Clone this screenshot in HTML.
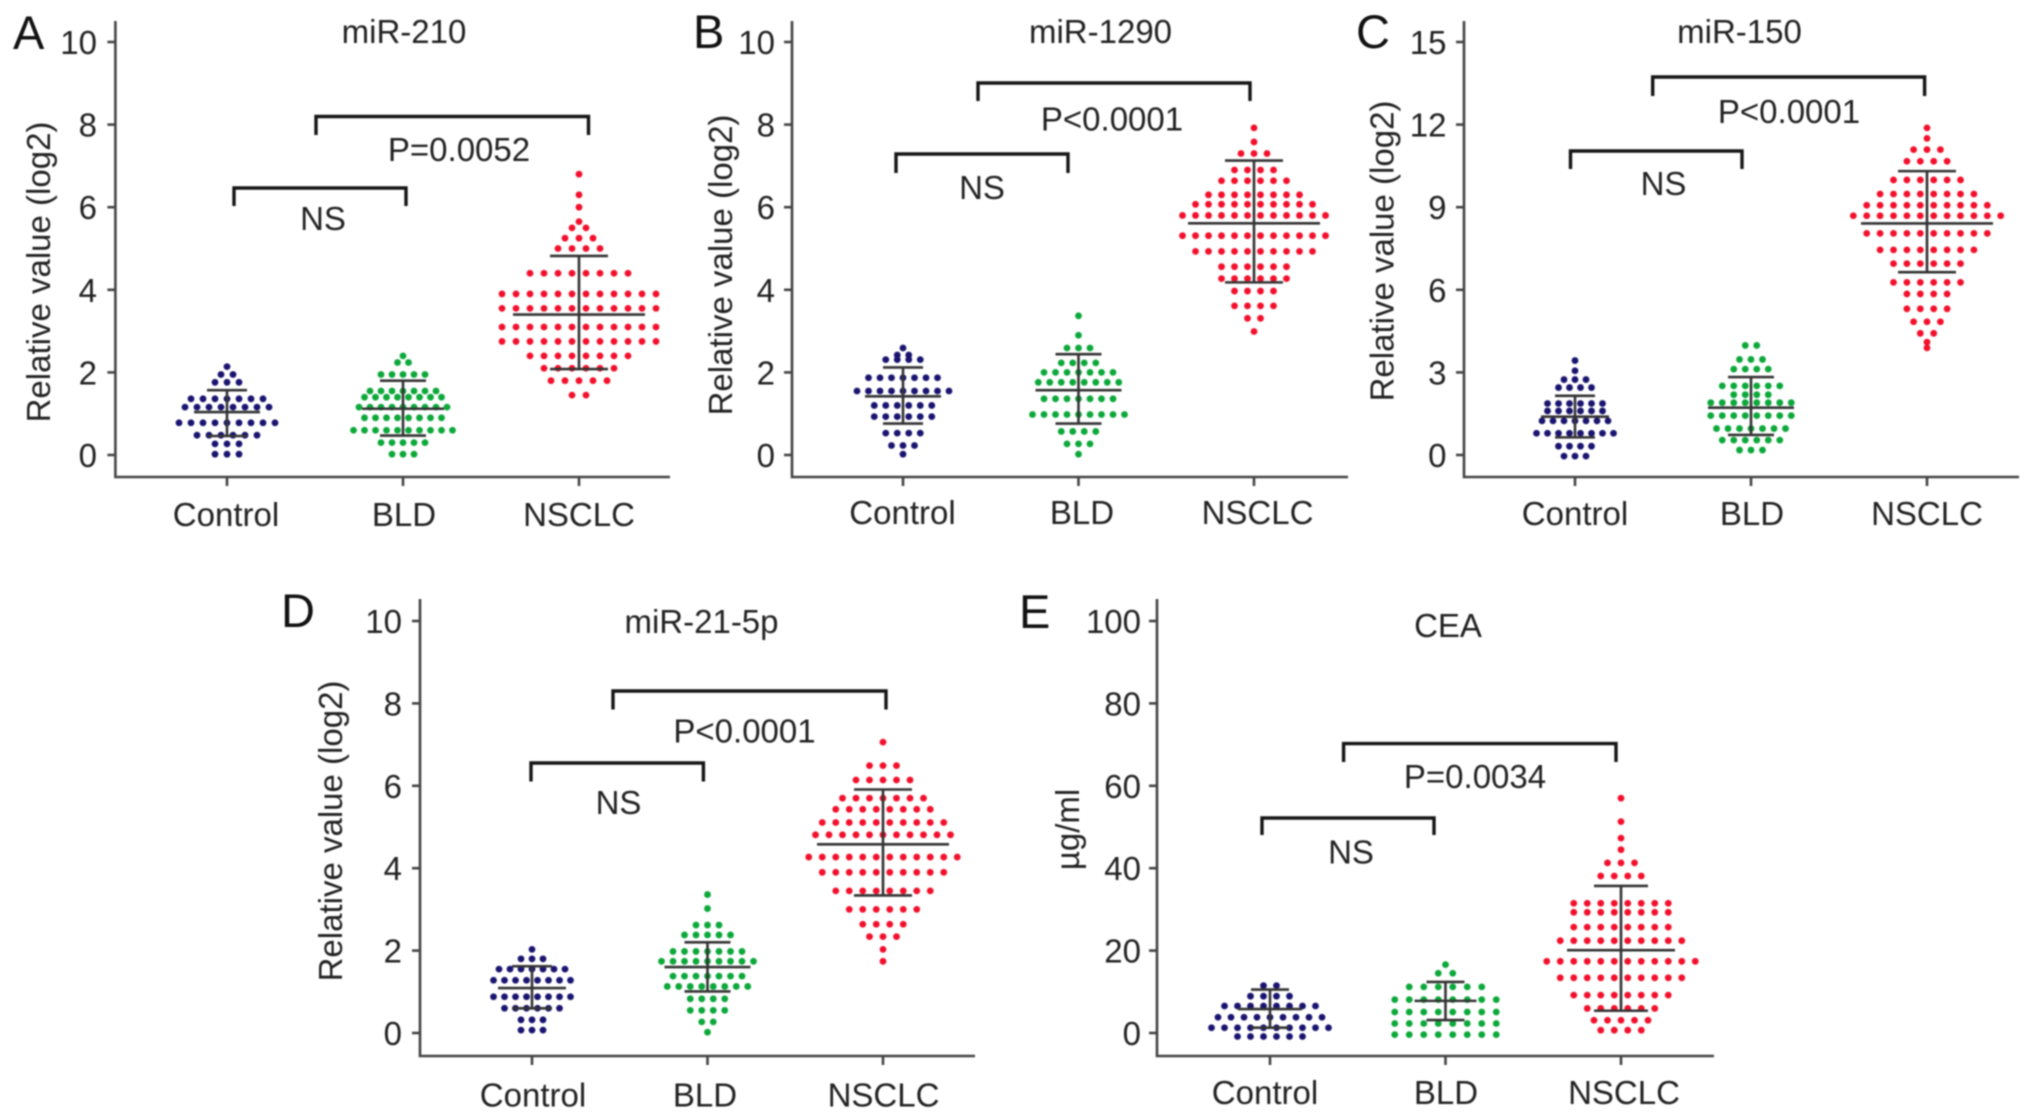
<!DOCTYPE html>
<html lang="en">
<head>
<meta charset="utf-8">
<title>miRNA and CEA dot plots</title>
<style>
html,body{margin:0;padding:0;background:#fff;}
#figure{display:block;width:2032px;height:1120px;filter:blur(0.8px);}
text{font-family:"Liberation Sans",Arial,sans-serif;fill:#222;}
.lbl{font-size:33px;}
.mid{text-anchor:middle;}
.letter{font-size:47px;fill:#111;}
.axis{stroke:#444;stroke-width:2.6;fill:none;}
.bracket{stroke:#151515;stroke-width:3.4;fill:none;}
</style>
</head>
<body>
<svg id="figure" xmlns="http://www.w3.org/2000/svg" width="2032" height="1120" viewBox="0 0 2032 1120">
  <rect width="2032" height="1120" fill="#fff"/>

  <g id="panel-a">
    <text class="letter" x="13" y="49">A</text>
    <text class="lbl mid" x="404" y="43">miR-210</text>
    <text class="lbl mid" transform="translate(50,272) rotate(-90)">Relative value (log2)</text>
    <path class="axis" d="M115.4 21V477H670"/>
    <text class="lbl mid" x="226" y="526">Control</text>
    <text class="lbl mid" x="404" y="526">BLD</text>
    <text class="lbl mid" x="579" y="526">NSCLC</text>
    <path class="bracket" d="M234 206V188H406V206"/>
    <text class="lbl mid" x="323" y="230">NS</text>
    <path class="bracket" d="M316 135V116.5H588.5V135"/>
    <text class="lbl mid" x="459" y="161">P=0.0052</text>
  </g>

  <g id="panel-b">
    <text class="letter" x="693" y="48">B</text>
    <text class="lbl mid" x="1100.5" y="43">miR-1290</text>
    <text class="lbl mid" transform="translate(732,265) rotate(-90)">Relative value (log2)</text>
    <path class="axis" d="M792 21V477H1348"/>
    <text class="lbl mid" x="902.5" y="524">Control</text>
    <text class="lbl mid" x="1082" y="524">BLD</text>
    <text class="lbl mid" x="1257.5" y="524">NSCLC</text>
    <path class="bracket" d="M896 173V154H1068V173"/>
    <text class="lbl mid" x="982" y="199">NS</text>
    <path class="bracket" d="M978 101V83H1250V101"/>
    <text class="lbl mid" x="1112" y="130.5">P&lt;0.0001</text>
  </g>

  <g id="panel-c">
    <text class="letter" x="1356" y="48">C</text>
    <text class="lbl mid" x="1739.5" y="43">miR-150</text>
    <text class="lbl mid" transform="translate(1393.5,251) rotate(-90)">Relative value (log2)</text>
    <path class="axis" d="M1464 21V477H2019"/>
    <text class="lbl mid" x="1575" y="525">Control</text>
    <text class="lbl mid" x="1752" y="525">BLD</text>
    <text class="lbl mid" x="1927" y="525">NSCLC</text>
    <path class="bracket" d="M1570.5 169V151H1742V169"/>
    <text class="lbl mid" x="1663.5" y="195">NS</text>
    <path class="bracket" d="M1652.7 96V77H1924.6V96"/>
    <text class="lbl mid" x="1789" y="123">P&lt;0.0001</text>
  </g>

  <g id="panel-d">
    <text class="letter" x="281" y="627">D</text>
    <text class="lbl mid" x="701.5" y="633">miR-21-5p</text>
    <text class="lbl mid" transform="translate(342,831) rotate(-90)">Relative value (log2)</text>
    <path class="axis" d="M420 599V1056H975"/>
    <text class="lbl mid" x="533" y="1106.5">Control</text>
    <text class="lbl mid" x="705" y="1106.5">BLD</text>
    <text class="lbl mid" x="883.5" y="1106.5">NSCLC</text>
    <path class="bracket" d="M531 781.5V763H703.4V781.5"/>
    <text class="lbl mid" x="618.5" y="814">NS</text>
    <path class="bracket" d="M613 709.5V691H886V709.5"/>
    <text class="lbl mid" x="744.5" y="742.5">P&lt;0.0001</text>
  </g>

  <g id="panel-e">
    <text class="letter" x="1019" y="628">E</text>
    <text class="lbl mid" x="1448" y="637">CEA</text>
    <text class="lbl mid" transform="translate(1079,829.5) rotate(-90)">µg/ml</text>
    <path class="axis" d="M1157 599V1056H1714"/>
    <text class="lbl mid" x="1265" y="1104">Control</text>
    <text class="lbl mid" x="1446" y="1104">BLD</text>
    <text class="lbl mid" x="1624" y="1104">NSCLC</text>
    <path class="bracket" d="M1262 835V818H1434V835"/>
    <text class="lbl mid" x="1351" y="863.5">NS</text>
    <path class="bracket" d="M1343.6 762V743.6H1616V762"/>
    <text class="lbl mid" x="1475" y="788">P=0.0034</text>
  </g>
</svg>

<script>
const categories = ['control', 'bld', 'nsclc'];
const groupColors = ['#1a1470', '#0ca83a', '#f2102c'];

/* Panel A: miR-210 */
const aTicks = [0, 2, 4, 6, 8, 10];
const aControl = [2.14, 1.95,1.95, 1.76,1.76,1.76, 1.36,1.36,1.36,1.36,1.36,1.36,1.36, 1.16,1.16,1.16,1.16,1.16,1.16,1.16,1.16, 0.78,0.78,0.78,0.78,0.78,0.78,0.78,0.78,0.78, 0.48,0.48,0.48,0.48,0.48,0.48, 0.27,0.27,0.27, 0.02,0.02,0.02];
const aBld = [2.4, 2.24,2.24, 1.95,1.95,1.95,1.95,1.95, 1.55,1.55,1.55,1.55,1.55,1.55,1.55, 1.4,1.4,1.4,1.4,1.4,1.4,1.4,1.4, 1.16,1.16,1.16,1.16,1.16,1.16,1.16,1.16,1.16, 0.9,0.9,0.9,0.9,0.9,0.9,0.9,0.9, 0.6,0.6,0.6,0.6,0.6,0.6,0.6,0.6,0.6,0.6, 0.3,0.3,0.3,0.3,0.3, 0.02,0.02,0.02];
const aNsclc = [6.8, 6.3, 6.0, 5.65, 5.5,5.5, 5.25,5.25,5.25, 5.0,5.0,5.0,5.0, 4.4,4.4,4.4,4.4,4.4,4.4,4.4,4.4, 3.9,3.9,3.9,3.9,3.9,3.9,3.9,3.9,3.9,3.9,3.9,3.9, 3.55,3.55,3.55,3.55,3.55,3.55,3.55,3.55,3.55,3.55,3.55,3.55, 3.1,3.1,3.1,3.1,3.1,3.1,3.1,3.1,3.1,3.1,3.1,3.1, 2.75,2.75,2.75,2.75,2.75,2.75,2.75,2.75,2.75,2.75,2.75,2.75, 2.4,2.4,2.4,2.4,2.4,2.4,2.4,2.4, 2.1,2.1,2.1,2.1,2.1,2.1, 1.8,1.8,1.8,1.8,1.8, 1.45,1.45];
const aMeans = [1.04, 1.12, 3.4];
const aUpper = [1.57, 1.8, 4.82];
const aLower = [0.46, 0.47, 2.08];

/* Panel B: miR-1290 */
const bTicks = [0, 2, 4, 6, 8, 10];
const bControl = [2.59, 2.42,2.42, 2.31,2.31,2.31,2.31, 1.87,1.87,1.87,1.87,1.87,1.87,1.87, 1.55,1.55,1.55,1.55,1.55,1.55,1.55,1.55,1.55, 1.2,1.2,1.2,1.2,1.2,1.2, 0.93,0.93,0.93,0.93,0.93,0.93, 0.53,0.53,0.53,0.53, 0.23,0.23,0.23, 0.02];
const bBld = [3.37, 2.9, 2.59,2.59,2.59, 2.23,2.23,2.23,2.23, 2.0,2.0,2.0,2.0,2.0,2.0,2.0, 1.76,1.76,1.76,1.76,1.76,1.76,1.76,1.76, 1.36,1.36,1.36,1.36,1.36,1.36,1.36, 0.98,0.98,0.98,0.98,0.98,0.98,0.98,0.98,0.98, 0.57,0.57,0.57,0.57, 0.27,0.27,0.27, 0.02];
const bNsclc = [7.92, 7.58, 7.3,7.3,7.3, 6.9,6.9,6.9,6.9, 6.64,6.64,6.64,6.64,6.64,6.64, 6.3,6.3,6.3,6.3,6.3,6.3,6.3,6.3, 6.07,6.07,6.07,6.07,6.07,6.07,6.07,6.07,6.07,6.07, 5.8,5.8,5.8,5.8,5.8,5.8,5.8,5.8,5.8,5.8,5.8,5.8, 5.31,5.31,5.31,5.31,5.31,5.31,5.31,5.31,5.31,5.31,5.31,5.31, 4.93,4.93,4.93,4.93,4.93,4.93,4.93,4.93,4.93,4.93, 4.56,4.56,4.56,4.56,4.56,4.56, 4.27,4.27,4.27,4.27,4.27,4.27, 3.97,3.97,3.97,3.97, 3.61,3.61,3.61,3.61, 3.31,3.31, 2.99];
const bMeans = [1.42, 1.57, 5.61];
const bUpper = [2.12, 2.44, 7.13];
const bLower = [0.76, 0.76, 4.18];

/* Panel C: miR-150 */
const cTicks = [0, 3, 6, 9, 12, 15];
const cControl = [3.43, 3.06, 2.74,2.74,2.74, 2.45,2.45,2.45,2.45, 1.87,1.87,1.87,1.87,1.87,1.87, 1.6,1.6,1.6,1.6,1.6,1.6, 1.24,1.24,1.24,1.24,1.24,1.24,1.24, 0.79,0.79,0.79,0.79,0.79,0.79,0.79,0.79, 0.32,0.32,0.32,0.32, -0.04,-0.04,-0.04];
const cBld = [3.98,3.98, 3.47,3.47,3.47, 3.12,3.12,3.12,3.12, 2.51,2.51,2.51,2.51,2.51,2.51, 2.19,2.19,2.19,2.19, 1.9,1.9,1.9,1.9,1.9,1.9,1.9,1.9, 1.43,1.43,1.43,1.43,1.43,1.43,1.43,1.43, 0.96,0.96,0.96,0.96,0.96,0.96,0.96, 0.54,0.54,0.54,0.54,0.54,0.54, 0.18,0.18,0.18];
const cNsclc = [11.88, 11.5, 11.09,11.09,11.09, 10.67,10.67,10.67,10.67, 9.99,9.99,9.99,9.99,9.99,9.99, 9.48,9.48,9.48,9.48,9.48,9.48,9.48,9.48, 9.07,9.07,9.07,9.07,9.07,9.07,9.07,9.07,9.07,9.07, 8.69,8.69,8.69,8.69,8.69,8.69,8.69,8.69,8.69,8.69,8.69,8.69, 8.05,8.05,8.05,8.05,8.05,8.05,8.05,8.05,8.05,8.05, 7.45,7.45,7.45,7.45,7.45,7.45,7.45,7.45, 6.95,6.95,6.95,6.95,6.95,6.95, 6.27,6.27,6.27,6.27,6.27,6.27, 5.85,5.85,5.85,5.85, 5.31,5.31,5.31,5.31, 4.84,4.84,4.84, 4.42,4.42, 4.1, 3.89];
const cMeans = [1.39, 1.72, 8.41];
const cUpper = [2.15, 2.83, 10.31];
const cLower = [0.64, 0.73, 6.64];

/* Panel D: miR-21-5p */
const dTicks = [0, 2, 4, 6, 8, 10];
const dControl = [2.03, 1.8,1.8,1.8, 1.55,1.55,1.55,1.55,1.55,1.55,1.55, 1.28,1.28,1.28,1.28,1.28,1.28,1.28,1.28, 0.88,0.88,0.88,0.88,0.88,0.88,0.88,0.88, 0.6,0.6,0.6,0.6,0.6,0.6, 0.32,0.32,0.32, 0.07,0.07,0.07];
const dBld = [3.36, 3.02, 2.62,2.62,2.62, 2.38,2.38,2.38,2.38,2.38, 1.98,1.98,1.98,1.98,1.98,1.98,1.98, 1.74,1.74,1.74,1.74,1.74,1.74,1.74,1.74,1.74, 1.38,1.38,1.38,1.38,1.38,1.38,1.38, 1.13,1.13,1.13,1.13,1.13,1.13,1.13,1.13, 0.83,0.83,0.83,0.83, 0.55,0.55,0.55,0.55, 0.27,0.27, 0.02];
const dNsclc = [7.06, 6.49,6.49,6.49, 6.14,6.14,6.14,6.14,6.14, 5.7,5.7,5.7,5.7,5.7,5.7,5.7, 5.43,5.43,5.43,5.43,5.43,5.43,5.43,5.43, 5.11,5.11,5.11,5.11,5.11,5.11,5.11,5.11,5.11,5.11, 4.81,4.81,4.81,4.81,4.81,4.81,4.81,4.81,4.81,4.81,4.81, 4.27,4.27,4.27,4.27,4.27,4.27,4.27,4.27,4.27,4.27,4.27,4.27, 3.9,3.9,3.9,3.9,3.9,3.9,3.9,3.9,3.9,3.9, 3.45,3.45,3.45,3.45,3.45,3.45,3.45,3.45, 3.0,3.0,3.0,3.0,3.0,3.0, 2.64,2.64,2.64,2.64, 2.34,2.34,2.34, 2.03, 1.74];
const dMeans = [1.09, 1.6, 4.58];
const dUpper = [1.62, 2.2, 5.91];
const dLower = [0.6, 1.01, 3.34];

/* Panel E: CEA */
const eTicks = [0, 20, 40, 60, 80, 100];
const eControl = [11.5,11.5, 8.94,8.94,8.94,8.94, 6.55,6.55,6.55,6.55,6.55,6.55,6.55,6.55, 3.83,3.83,3.83,3.83,3.83,3.83,3.83,3.83,3.83, 1.28,1.28,1.28,1.28,1.28,1.28,1.28,1.28,1.28,1.28, -0.85,-0.85,-0.85,-0.85,-0.85,-0.85];
const eBld = [16.6, 14.5,14.5, 11.2,11.2,11.2,11.2,11.2,11.2, 8.1,8.1,8.1,8.1,8.1,8.1,8.1,8.1, 5.1,5.1,5.1,5.1,5.1,5.1,5.1,5.1, 2.3,2.3,2.3,2.3,2.3,2.3,2.3,2.3, -0.4,-0.4,-0.4,-0.4,-0.4,-0.4,-0.4,-0.4];
const eNsclc = [57, 51.3, 47.3, 44.5, 41.3,41.3,41.3, 38.1,38.1,38.1,38.1, 31.5,31.5,31.5,31.5,31.5,31.5,31.5,31.5, 29.3,29.3,29.3,29.3,29.3,29.3,29.3,29.3, 25.7,25.7,25.7,25.7,25.7,25.7,25.7,25.7, 22.4,22.4,22.4,22.4,22.4,22.4,22.4,22.4,22.4,22.4, 17.4,17.4,17.4,17.4,17.4,17.4,17.4,17.4,17.4,17.4,17.4,17.4, 13.4,13.4,13.4,13.4,13.4,13.4,13.4,13.4,13.4,13.4, 9.2,9.2,9.2,9.2,9.2,9.2,9.2,9.2, 5.96,5.96,5.96,5.96,5.96,5.96, 3.1,3.1,3.1,3.1,3.1, 0.68,0.68,0.68,0.68];
const eMeans = [5.8, 7.8, 20.1];
const eUpper = [10.55, 12.4, 35.7];
const eLower = [1.3, 3.15, 5.4];

const SVG_NS = 'http://www.w3.org/2000/svg';

function make(tag, attrs, parent) {
  const node = document.createElementNS(SVG_NS, tag);
  Object.keys(attrs).forEach(function (key) { node.setAttribute(key, attrs[key]); });
  parent.appendChild(node);
  return node;
}

/* Lay one group's values out as centred rows: equal values share a row. */
function swarmRows(values) {
  const rows = new Map();
  values.forEach(function (value) {
    if (!rows.has(value)) rows.set(value, 0);
    rows.set(value, rows.get(value) + 1);
  });
  return rows;
}

function drawPanel(p) {
  const root = document.getElementById('panel-' + p.id);
  const top = p.ticks[p.ticks.length - 1];
  const y = function (v) { return p.y0 + (p.yTop - p.y0) * v / top; };
  const x = function (i) { return p.x0 + i * p.dx; };

  p.ticks.forEach(function (t) {
    const mark = make('line', { x1: p.axisX - 8, x2: p.axisX, y1: y(t), y2: y(t), stroke: '#444', 'stroke-width': 2.6 }, root);
    
    
    const label = make('text', { x: p.labelRight, y: y(t) + 12, class: 'lbl', 'text-anchor': 'end' }, root);
    label.textContent = String(t);
    
    
  });

  categories.forEach(function (cat, i) {
    const tick = make('line', { x1: x(i), x2: x(i), y1: p.axisY, y2: p.axisY + 9, stroke: '#444', 'stroke-width': 2.6 }, root);
    
    

    const group = make('g', { fill: groupColors[i] }, root);
    
    
    swarmRows(p.series[i]).forEach(function (count, value) {
      for (let k = 0; k < count; k++) {
        const dot = make('circle', { cx: x(i) + (k - (count - 1) / 2) * p.spacing[i], cy: y(value), r: 3.4 }, group);
        
        
      }
    });

    const bar = make('path', {
      d: 'M' + (x(i) - p.capHalf[i]) + ' ' + y(p.upper[i]) + 'H' + (x(i) + p.capHalf[i]) +
         'M' + x(i) + ' ' + y(p.upper[i]) + 'V' + y(p.lower[i]) +
         'M' + (x(i) - p.capHalf[i]) + ' ' + y(p.lower[i]) + 'H' + (x(i) + p.capHalf[i]),
      stroke: '#333', 'stroke-width': 2.6, fill: 'none'
    }, root);
    
    

    const meanLine = make('line', { x1: x(i) - p.meanHalf[i], x2: x(i) + p.meanHalf[i], y1: y(p.means[i]), y2: y(p.means[i]), stroke: '#333', 'stroke-width': 2.6 }, root);
    
    
  });
}

const panelList = [
  { id: 'a', ticks: aTicks, series: [aControl, aBld, aNsclc], means: aMeans, upper: aUpper, lower: aLower,
    axisX: 115.4, labelRight: 97, axisY: 477, y0: 455, yTop: 42, x0: 227, dx: 176,
    spacing: [12, 11, 14], capHalf: [20, 23, 29], meanHalf: [33, 41, 66] },
  { id: 'b', ticks: bTicks, series: [bControl, bBld, bNsclc], means: bMeans, upper: bUpper, lower: bLower,
    axisX: 792, labelRight: 775, axisY: 477, y0: 455, yTop: 42, x0: 903, dx: 175.5,
    spacing: [11.5, 11.5, 13], capHalf: [20, 23, 29], meanHalf: [38, 43, 66] },
  { id: 'c', ticks: cTicks, series: [cControl, cBld, cNsclc], means: cMeans, upper: cUpper, lower: cLower,
    axisX: 1464, labelRight: 1446.5, axisY: 477, y0: 455, yTop: 42, x0: 1575, dx: 176,
    spacing: [11, 11.5, 13.4], capHalf: [20, 23, 29], meanHalf: [34, 43, 66] },
  { id: 'd', ticks: dTicks, series: [dControl, dBld, dNsclc], means: dMeans, upper: dUpper, lower: dLower,
    axisX: 420, labelRight: 402, axisY: 1056, y0: 1033, yTop: 621, x0: 532, dx: 175.5,
    spacing: [11, 11.5, 13.5], capHalf: [20, 23, 29], meanHalf: [34, 43, 66] },
  { id: 'e', ticks: eTicks, series: [eControl, eBld, eNsclc], means: eMeans, upper: eUpper, lower: eLower,
    axisX: 1157, labelRight: 1141, axisY: 1056, y0: 1033, yTop: 621, x0: 1270, dx: 175.5,
    spacing: [13, 14.5, 13.5], capHalf: [19, 19, 27], meanHalf: [32, 31, 54] }
];

panelList.forEach(drawPanel);
</script>
</body>
</html>
